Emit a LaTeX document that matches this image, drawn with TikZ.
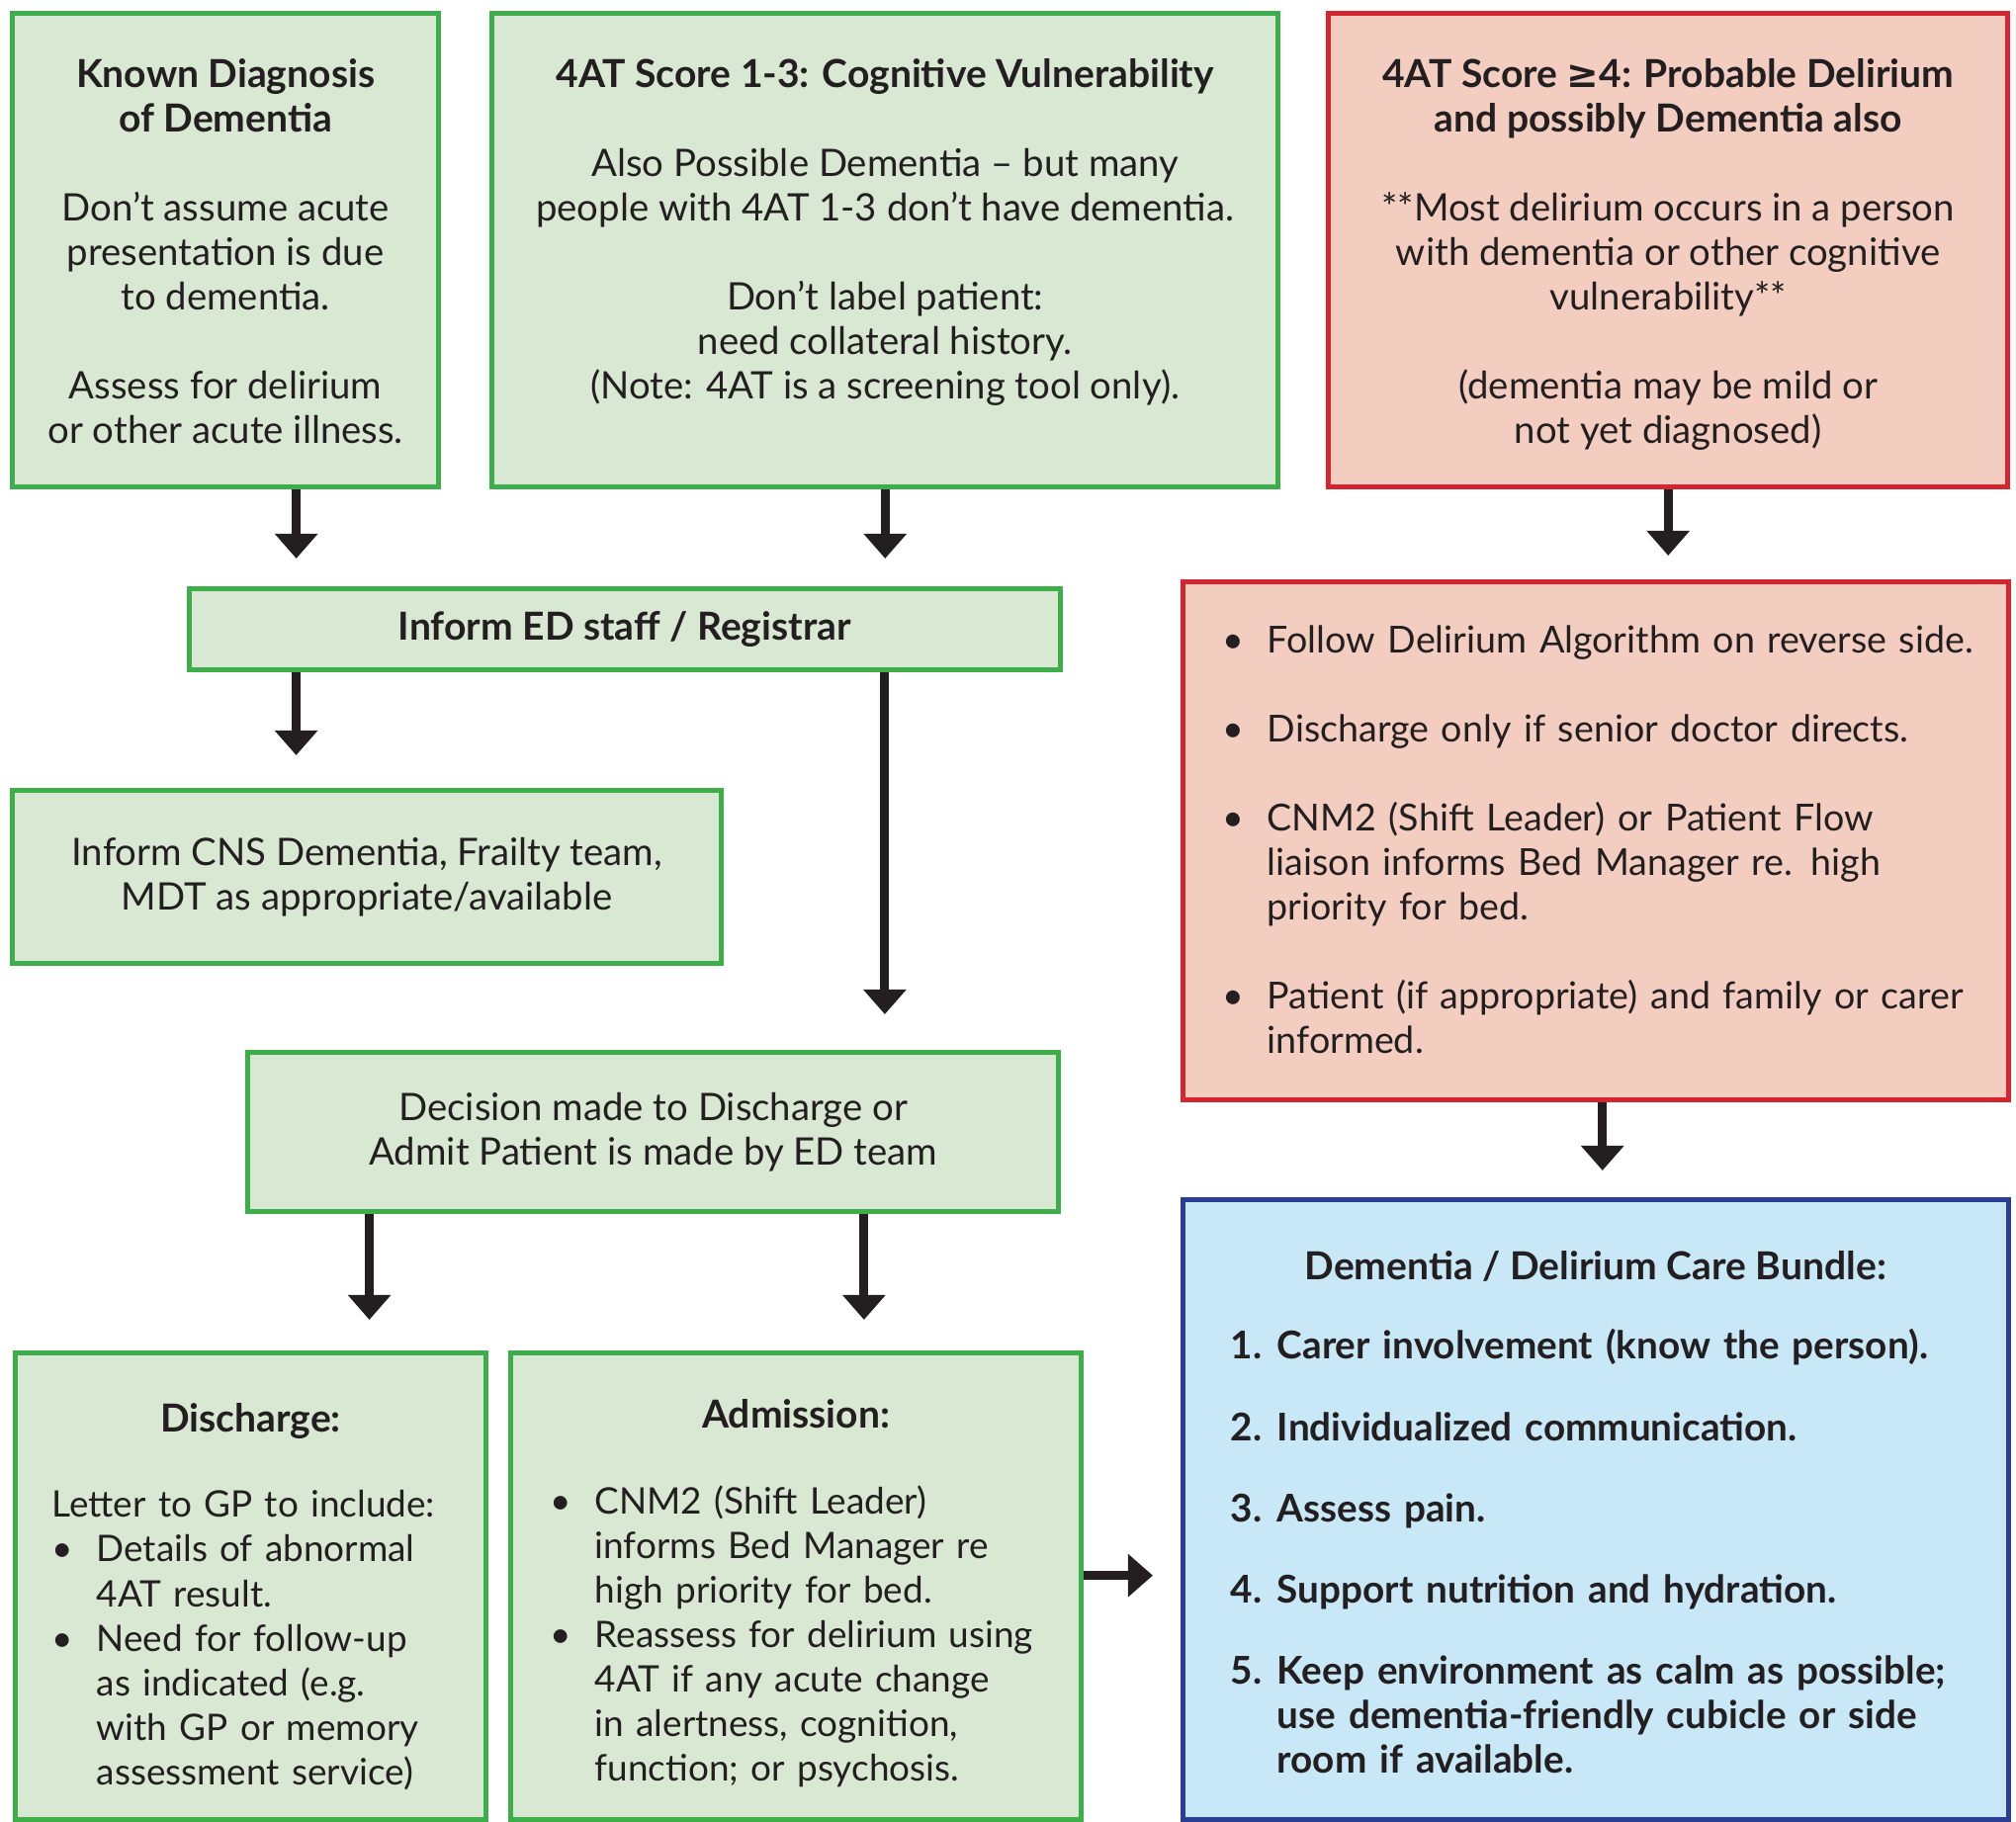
\documentclass[tikz,border=0pt]{standalone}
\usepackage{fontspec}
\setmainfont{Lato}
\newfontfamily\symfont{DejaVu Sans}
\usetikzlibrary{positioning}
\usetikzlibrary{arrows.meta}
\definecolor{ink}{HTML}{231F20}
\definecolor{gfill}{HTML}{D8E8D2}
\definecolor{gline}{HTML}{3EAE4A}
\definecolor{rfill}{HTML}{F3CEC0}
\definecolor{rline}{HTML}{D42530}
\definecolor{bfill}{HTML}{C8E8F8}
\definecolor{bline}{HTML}{2A3F92}

\newcommand{\hd}[1]{{\fontsize{11.1}{12.8}\selectfont\bfseries #1}}
\newcommand{\bul}[1]{\par\hangindent=0.45cm\hangafter=1\noindent\makebox[0.45cm][l]{\textbullet}#1\par}
\newcommand{\numit}[2]{\par\hangindent=0.47cm\hangafter=1\noindent\makebox[0.47cm][l]{#1.}#2\par}

\begin{document}
\begin{tikzpicture}[x=0.01cm, y=-0.01cm,
	panel/.style={draw, line width=0.05cm, anchor=north west, inner sep=0pt},
	gbox/.style={panel, draw=gline, fill=gfill},
	rbox/.style={panel, draw=rline, fill=rfill},
	bbox/.style={panel, draw=bline, fill=bfill},
	txt/.style={inner sep=0pt, align=center, text=ink, font=\fontsize{10.9}{12.8}\selectfont},
	small/.style={font=\fontsize{10.5}{12.8}\selectfont},
	lst/.style={txt, align=left, anchor=north west},
	arr/.style={draw=ink, line width=0.09cm, -{Triangle[width=0.42cm,length=0.25cm]}}]
	\useasboundingbox (0,0) rectangle (2039,1843);

	% boxes
	\node[gbox, minimum width=4.31cm, minimum height=4.79cm] (known) at (10,11) {};
	\node[gbox, minimum width=7.95cm, minimum height=4.79cm] (score) at (495,11) {};
	\node[rbox, minimum width=6.87cm, minimum height=4.79cm] (prob) at (1341,11) {};
	\node[gbox, minimum width=8.80cm, minimum height=0.82cm] (ied) at (189,593) {};
	\node[gbox, minimum width=7.17cm, minimum height=1.75cm] (cns) at (10,797) {};
	\node[gbox, minimum width=8.20cm, minimum height=1.61cm] (dec) at (248,1062) {};
	\node[gbox, minimum width=4.76cm, minimum height=4.72cm] (dis) at (13,1366) {};
	\node[gbox, minimum width=5.77cm, minimum height=4.72cm] (adm) at (514,1366) {};
	\node[rbox, minimum width=8.34cm, minimum height=5.24cm] (steps) at (1194,586) {};
	\node[bbox, minimum width=8.34cm, minimum height=6.27cm] (bundle) at (1194,1211) {};

	% texts
	\node[txt, below=0.48cm of known.north] (knownT) {\hd{Known Diagnosis}\\ \hd{of Dementia}\\[12.8pt]
		Don’t assume acute\\ presentation is due\\ to dementia.\\[12.8pt] Assess for delirium\\ or other acute illness.};
	\node[txt, below=0.48cm of score.north] (scoreT) {\hd{4AT Score 1-3: Cognitive Vulnerability}\\[12.8pt]
		Also Possible Dementia – but many\\ people with 4AT 1-3 don’t have dementia.\\[12.8pt]
		Don’t label patient:\\ need collateral history.\\ (Note: 4AT is a screening tool only).};
	\node[txt, below=0.48cm of prob.north] (probT) {\hd{4AT Score {\symfont ≥}4: Probable Delirium}\\ \hd{and possibly Dementia also}\\[12.8pt]
		**Most delirium occurs in a person\\ with dementia or other cognitive\\ vulnerability**\\[12.8pt]
		(dementia may be mild or\\ not yet diagnosed)};
	\node[txt] (iedT) at (ied) {\hd{Inform ED staff / Registrar}};
	\node[txt] (cnsT) at (cns) {Inform CNS Dementia, Frailty team,\\ MDT as appropriate/available};
	\node[txt] (decT) at (dec) {Decision made to Discharge or\\ Admit Patient is made by ED team};
	\node[lst, text width=7.75cm, font=\fontsize{10.7}{12.8}\selectfont, anchor=west, right=0.42cm of steps.west, yshift=0.10cm] (stepsT) {%
		\bul{Follow Delirium Algorithm on reverse side.}\vspace{12.8pt}
		\bul{Discharge only if senior doctor directs.}\vspace{12.8pt}
		\bul{CNM2 (Shift Leader) or Patient Flow\newline liaison informs Bed Manager re. high\newline priority for bed.}\vspace{12.8pt}
		\bul{Patient (if appropriate) and family or carer\newline informed.}};
	\node[txt, below=0.54cm of bundle.north] (bundleT) {\hd{Dementia / Delirium Care Bundle:}};
	\node[lst, text width=7.7cm, font=\fontsize{11}{12.8}\selectfont\bfseries, below right=1.18cm and 0.50cm of bundle.north west] (bundleL) {%
		\numit{1}{Carer involvement (know the person).}\vspace{10.6pt}
		\numit{2}{Individualized communication.}\vspace{10.6pt}
		\numit{3}{Assess pain.}\vspace{10.6pt}
		\numit{4}{Support nutrition and hydration.}\vspace{10.6pt}
		\numit{5}{Keep environment as calm as possible;\newline use dementia-friendly cubicle or side\newline room if available.}};
	\node[txt, below=0.53cm of dis.north] (disT) {\hd{Discharge:}};
	\node[lst, small, text width=4.3cm, below right=1.41cm and 0.39cm of dis.north west] (disL) {%
		\noindent Letter to GP to include:\par
		\bul{Details of abnormal\newline 4AT result.}
		\bul{Need for follow-up\newline as indicated (e.g.\newline with GP or memory\newline assessment service)}};
	\node[txt, below=0.49cm of adm.north] (admT) {\hd{Admission:}};
	\node[lst, small, text width=5.4cm, below right=1.20cm and 0.42cm of adm.north west] (admL) {%
		\bul{CNM2 (Shift Leader)\newline informs Bed Manager re\newline high priority for bed.}
		\bul{Reassess for delirium using\newline 4AT if any acute change\newline in alertness, cognition,\newline function; or psychosis.}};

	% arrows
	\foreach \a/\s/\b/\g in {known/0.715/ied/0.28, score/0/ied/0.28, prob/0/steps/0.24, ied/-3.32/cns/0.33,
		ied/2.63/dec/0.36, dec/-2.87/dis/0.31, dec/2.13/adm/0.31, steps/0.07/bundle/0.27}
		\draw[arr, shorten >=\g cm] ([xshift=\s cm]\a.south) -- ([xshift=\s cm]\a.south |- \b.north);
	\draw[arr, shorten >=0.28cm] ([yshift=0.11cm]adm.east) -- ([yshift=0.11cm]adm.east -| bundle.west);
\end{tikzpicture}
\end{document}
